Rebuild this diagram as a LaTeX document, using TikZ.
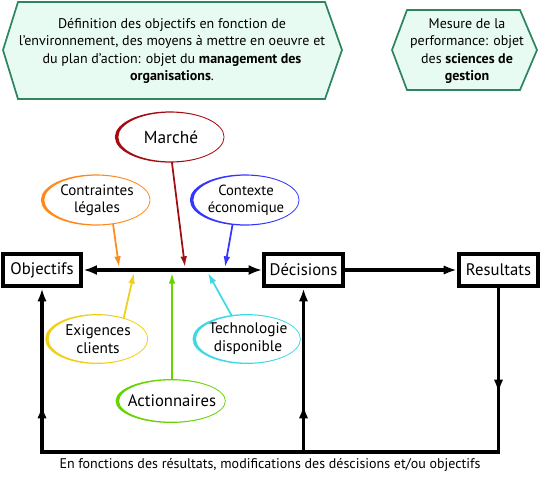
\documentclass[tikz,border=0pt]{standalone}
\usepackage{fontspec}
\setmainfont{PT Sans}
\usepackage{tikz}
\usetikzlibrary{arrows.meta, shapes.geometric, calc}

\definecolor{hexgreen}{HTML}{2F8560}
\definecolor{hexfill}{HTML}{E8FBF3}
\definecolor{marketred}{HTML}{A30D12}
\definecolor{legalorange}{HTML}{FF8A1C}
\definecolor{econblue}{HTML}{3535FF}
\definecolor{clientyellow}{HTML}{F0CF18}
\definecolor{sharegreen}{HTML}{66D400}
\definecolor{techcyan}{HTML}{40D8E4}

% rim of a factor ellipse: thick on the left, thin on the right
\newcommand{\rim}[2]{%
  \fill[#2, even odd rule]
    let \p0=(#1.center), \p1=(#1.east), \p2=(#1.north) in
    (\x0-1pt,\y0) ellipse [x radius=\x1-\x0+1.4pt, y radius=\y2-\y0+0.5pt]
    (\x0,\y0) ellipse [x radius=\x1-\x0-0.2pt, y radius=\y2-\y0-0.4pt];}

\begin{document}
\begin{tikzpicture}[
    x=0.75pt, y=-0.75pt,
    hexbox/.style={draw=hexgreen, fill=hexfill, line width=1.3pt, line join=miter},
    hextext/.style={align=center, font=\fontsize{10.5}{13}\selectfont},
    stagebox/.style={draw, line width=3.2pt, fill=white, minimum width=59pt, minimum height=24pt, inner sep=1pt, font=\fontsize{12.5}{14}\selectfont},
    factor/.style={ellipse, inner xsep=-2pt, inner ysep=-1.5pt, minimum width=79pt, minimum height=37pt, align=center, font=\fontsize{11.3}{13}\selectfont},
    mainarr/.style={{Latex[length=10pt,width=7.5pt]}-{Latex[length=10pt,width=7.5pt]}, line width=2.6pt},
    flowarr/.style={-{Latex[length=10pt,width=7pt]}, line width=2.6pt, line join=miter},
    pusharr/.style={-{Latex[length=8pt,width=5pt]}, line width=1.3pt}
]
\useasboundingbox (0,0) rectangle (542,476);

% ---- Top hexagons ----
\filldraw[hexbox] (18,2) -- (325,2) -- (342,50) -- (325,99) -- (18,99) -- (3,50) -- cycle;
\node[hextext] (mgmt) at (172,51)
    {Définition des objectifs en fonction de\\
     l’environnement, des moyens à mettre en oeuvre et\\
     du plan d’action: objet du \textbf{management des}\\
     \textbf{organisations}.};
\filldraw[hexbox] (407,10) -- (520,10) -- (537,50) -- (520,90) -- (407,90) -- (392,50) -- cycle;
\node[hextext] (perf) at (467,51)
    {Mesure de la\\ performance: objet\\ des \textbf{sciences de}\\ \textbf{gestion}};

% ---- Stages ----
\node[stagebox] (obj) at ( 42.0, 270) {Objectifs};
\node[stagebox] (dec) at (303.5, 270) {Décisions};
\node[stagebox] (res) at (498.5, 270) {Resultats};

% ---- Factors ----
\node[factor, font=\fontsize{13}{15}\selectfont] (market) at (171,137) {Marché};
\node[factor] (legal) at ( 97,200) {Contraintes\\légales};
\node[factor, font=\fontsize{11}{13}\selectfont] (econ) at (246,200) {Contexte\\économique};
\node[factor, minimum width=74pt, minimum height=36pt, font=\fontsize{11.5}{13.5}\selectfont] (client) at ( 98,339) {Exigences\\clients};
\node[factor, inner xsep=-5pt, minimum width=74pt, minimum height=31.5pt, font=\fontsize{12.5}{14}\selectfont] (share) at (172,401) {Actionnaires};
\node[factor, minimum width=74pt, minimum height=36pt, font=\fontsize{11.5}{13.5}\selectfont] (tech) at (248,339) {Technologie\\disponible};
\rim{market}{marketred}
\rim{legal}{legalorange}
\rim{econ}{econblue}
\rim{client}{clientyellow}
\rim{share}{sharegreen}
\rim{tech}{techcyan}

% points where the factors hit the line
\coordinate (pLegal)  at (119,267);
\coordinate (pMarket) at (185,267);
\coordinate (pEcon)   at (225,267);
\coordinate (pClient) at (134,273);
\coordinate (pShare)  at (172,273);
\coordinate (pTech)   at (208,273);

% ---- Main line ----
\draw[mainarr] (obj) -- (dec);
\draw[flowarr] (dec) -- (res);

% ---- Factor arrows ----
\draw[pusharr, legalorange]  (legal.-56)   -- (pLegal);
\draw[pusharr, marketred]    (market.-88)  -- (pMarket);
\draw[pusharr, econblue]     (econ.-119)   -- (pEcon);
\draw[pusharr, clientyellow] (client.39)   -- (pClient);
\draw[pusharr, sharegreen]   (share.north) -- (pShare);
\draw[pusharr, techcyan]     (tech.125)    -- (pTech);

% ---- Feedback loop ----
\coordinate (rmid) at (res |- 0,393);
\coordinate (rbot) at (res |- 0,452);
\coordinate (mbot) at (dec |- 0,452);
\coordinate (mmid) at (dec |- 0,405);
\coordinate (lbot) at (obj |- 0,452);
\coordinate (lmid) at (obj |- 0,405);
\draw[flowarr] (res) -- (rbot) -- (lbot) -- (obj);
\draw[flowarr] (mbot) -- (dec);
% heads half way
\draw[flowarr] (res) -- (rmid);
\draw[flowarr] (lbot) -- (lmid);
\draw[flowarr] (mbot) -- (mmid);

\node[font=\fontsize{10.5}{12}\selectfont] (note) at (270,465)
    {En fonctions des résultats, modifications des déscisions et/ou objectifs};

\end{tikzpicture}
\end{document}
